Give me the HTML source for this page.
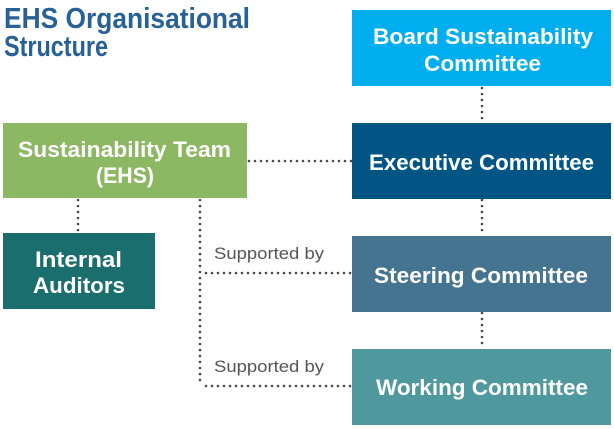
<!DOCTYPE html>
<html><head><meta charset="utf-8"><style>
html,body{margin:0;padding:0;background:#fff;}
svg{display:block;}
text{font-family:"Liberation Sans",sans-serif;}
.b{font-weight:bold;fill:#fff;font-size:22px;}
</style></head><body>
<svg width="614" height="429" viewBox="0 0 614 429" xmlns="http://www.w3.org/2000/svg">
<g stroke="#4a4a4a" stroke-width="2.6" stroke-linecap="round" fill="none" stroke-dasharray="0 6">
<line x1="482" y1="88" x2="482" y2="123"/>
<line x1="482" y1="200" x2="482" y2="236"/>
<line x1="482" y1="313" x2="482" y2="349"/>
<line x1="249" y1="161" x2="352" y2="161"/>
<line x1="78" y1="200" x2="78" y2="233"/>
<line x1="200" y1="200" x2="200" y2="386"/>
<line x1="206" y1="273" x2="352" y2="273"/>
<line x1="206" y1="386" x2="352" y2="386"/>
</g>
<text x="4" y="28" font-size="29" font-weight="bold" fill="#286196" textLength="246" lengthAdjust="spacingAndGlyphs">EHS Organisational</text>
<text x="4" y="56" font-size="29" font-weight="bold" fill="#286196" textLength="104" lengthAdjust="spacingAndGlyphs">Structure</text>
<rect x="352" y="10" width="259" height="76" fill="#00aeef"/>
<text class="b" x="373" y="44" textLength="220" lengthAdjust="spacingAndGlyphs">Board Sustainability</text>
<text class="b" x="424" y="71" textLength="117" lengthAdjust="spacingAndGlyphs">Committee</text>
<rect x="352" y="123" width="259" height="76" fill="#005584"/>
<text class="b" x="369" y="170" textLength="225" lengthAdjust="spacingAndGlyphs">Executive Committee</text>
<rect x="3" y="123" width="244" height="75" fill="#8db863"/>
<text class="b" x="18" y="157" textLength="213" lengthAdjust="spacingAndGlyphs">Sustainability Team</text>
<text class="b" x="96" y="183" textLength="58" lengthAdjust="spacingAndGlyphs">(EHS)</text>
<rect x="3" y="233" width="152" height="76" fill="#1a6e6e"/>
<text class="b" x="35" y="267" textLength="87" lengthAdjust="spacingAndGlyphs">Internal</text>
<text class="b" x="33" y="293" textLength="92" lengthAdjust="spacingAndGlyphs">Auditors</text>
<rect x="352" y="236" width="259" height="76" fill="#44748f"/>
<text class="b" x="374" y="283" textLength="214" lengthAdjust="spacingAndGlyphs">Steering Committee</text>
<rect x="352" y="349" width="259" height="76" fill="#4e989e"/>
<text class="b" x="376" y="395" textLength="212" lengthAdjust="spacingAndGlyphs">Working Committee</text>
<text x="214" y="259" font-size="17" fill="#555" textLength="110" lengthAdjust="spacingAndGlyphs">Supported by</text>
<text x="214" y="372" font-size="17" fill="#555" textLength="110" lengthAdjust="spacingAndGlyphs">Supported by</text>
</svg>
</body></html>
